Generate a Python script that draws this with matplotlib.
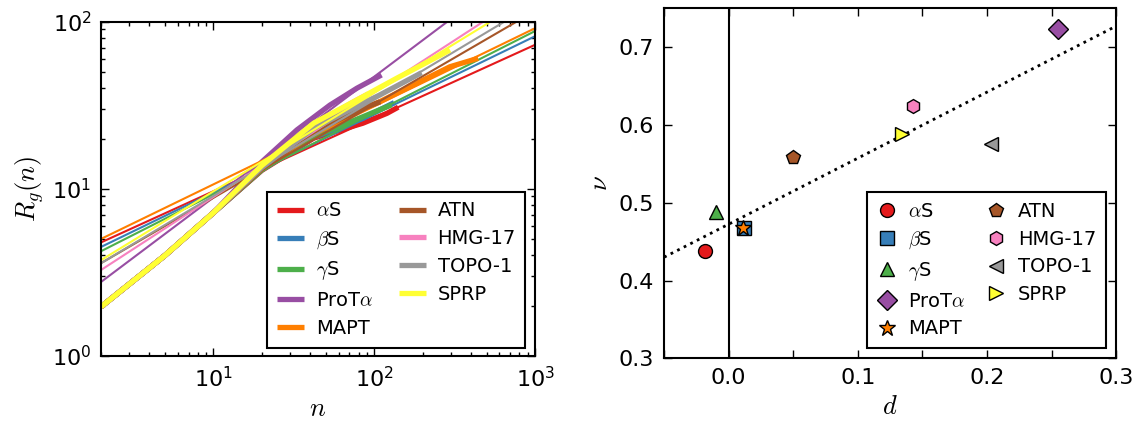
import numpy as np
import matplotlib
matplotlib.use("Agg")
import matplotlib.pyplot as plt

plt.rcParams['font.family'] = ['DejaVu Sans']
plt.rcParams['mathtext.fontset'] = 'cm'

names = [r'$\alpha$S', r'$\beta$S', r'$\gamma$S', r'ProT$\alpha$', 'MAPT',
         'ATN', 'HMG-17', 'TOPO-1', 'SPRP']
colors = ['#e41a1c', '#377eb8', '#4daf4a', '#984ea3', '#ff7f00',
          '#a65628', '#f781bf', '#999999', '#ffff33']
markers = ['o', 's', '^', 'D', '*', 'p', 'h', '<', '>']

# right panel values
d_vals = [-0.018, 0.012, -0.010, 0.255, 0.011, 0.050, 0.143, 0.203, 0.134]
nu_vals = [0.438, 0.467, 0.488, 0.723, 0.467, 0.559, 0.625, 0.576, 0.589]
# fitted prefactor b of R_g = b * n^nu (thin lines)
b_vals = [3.53, 3.25, 3.02, 1.68, 3.63, 2.44, 2.12, 2.41, 2.49]

# dotted trend line nu = a + s*d
trend_a = 0.4724
trend_s = 0.849

# measured R_g(n) curves (thick)
n_common = [2, 5, 10]
R_common = [1.97, 4.0, 7.2]
curve_n = [
    [20, 42, 85, 120, 141],
    [20, 42, 85, 133],
    [20, 42, 85, 128],
    [20, 33, 53, 78, 111],
    [20, 42, 85, 108, 202, 296, 443],
    [20, 42, 85, 109],
    [20, 42, 78, 92],
    [20, 42, 85, 108, 197],
    [20, 42, 85, 138, 200, 296],
]
curve_R = [
    [12.9, 20.1, 24.7, 28.3, 30.8],
    [13.0, 20.3, 26.4, 32.8],
    [13.0, 20.5, 27.0, 31.8],
    [14.5, 22.5, 31.7, 40.0, 48.0],
    [13.2, 21.5, 30.0, 33.2, 44.8, 53.8, 60.4],
    [13.2, 22.0, 30.3, 33.2],
    [13.6, 24.3, 34.0, 37.0],
    [13.4, 23.0, 32.5, 36.4, 49.5],
    [13.8, 24.7, 35.6, 45.9, 55.4, 67.7],
]

n_range = [2, 1000]

fig = plt.figure(figsize=(11.43, 4.23), dpi=100)
ax1 = fig.add_axes([0.0884, 0.1584, 0.3797, 0.7903])
ax2 = fig.add_axes([0.581, 0.1530, 0.3955, 0.8274])

tick_fs = 16
leg_fs = 14
lab_fs = 19

# ---- left panel
handles = []
for i in range(len(names)):
    nn = np.array(n_range, dtype=float)
    ax1.plot(nn, b_vals[i] * nn ** nu_vals[i], color=colors[i], lw=1.5,
             solid_capstyle='butt')
    h, = ax1.plot(n_common + curve_n[i], R_common + curve_R[i],
                  color=colors[i], lw=3.8, solid_capstyle='butt',
                  label=names[i])
    handles.append(h)
ax1.set_xscale('log')
ax1.set_yscale('log')
ax1.set_xlim(2, 1000)
ax1.set_ylim(1, 100)
ax1.set_xlabel(r'$n$', fontsize=lab_fs)
ax1.set_ylabel(r'$R_g(n)$', fontsize=lab_fs)
leg1 = ax1.legend(handles=handles, ncol=2, loc='lower right',
                  bbox_to_anchor=(0.978, 0.025), borderaxespad=0,
                  fontsize=leg_fs, handlelength=1.4, handletextpad=0.6,
                  columnspacing=1.3, labelspacing=0.45, borderpad=0.5,
                  fancybox=False, framealpha=1)
leg1.get_frame().set_edgecolor('black')
leg1.get_frame().set_linewidth(1.5)

# ---- right panel
ax2.axvline(0, color='black', lw=1.5)
dd = np.array([-0.05, 0.3])
ax2.plot(dd, trend_a + trend_s * dd, color='black', lw=2, ls=':')
for i in range(len(names)):
    ms = 12 if markers[i] == '*' else 10
    ax2.plot([d_vals[i]], [nu_vals[i]], ls='none', marker=markers[i],
             markersize=ms, markerfacecolor=colors[i], markeredgecolor='black',
             markeredgewidth=1.0, label=names[i])
ax2.set_xlim(-0.05, 0.3)
ax2.set_ylim(0.3, 0.75)
ax2.set_xticks([-0.05, 0.0, 0.05, 0.1, 0.15, 0.2, 0.25, 0.3])
ax2.set_xticklabels(['', '0.0', '', '0.1', '', '0.2', '', '0.3'])
ax2.set_yticks([0.3, 0.4, 0.5, 0.6, 0.7])
ax2.set_yticklabels(['0.3', '0.4', '0.5', '0.6', '0.7'])
ax2.set_xlabel(r'$d$', fontsize=lab_fs)
ax2.set_ylabel(r'$\nu$', fontsize=lab_fs)
leg2 = ax2.legend(ncol=2, loc='lower right', bbox_to_anchor=(0.977, 0.029),
                  borderaxespad=0, fontsize=leg_fs, numpoints=1,
                  handlelength=1.0, handletextpad=0.6, columnspacing=1.1,
                  labelspacing=0.45, borderpad=0.5, fancybox=False,
                  framealpha=1)
leg2.get_frame().set_edgecolor('black')
leg2.get_frame().set_linewidth(1.5)

for ax in (ax1, ax2):
    for s in ax.spines.values():
        s.set_linewidth(1.5)
    ax.tick_params(which='both', direction='in', top=True, right=True,
                   labelsize=tick_fs, pad=7)
    ax.tick_params(which='major', length=6, width=1)
    ax.tick_params(which='minor', length=3, width=1)

fig.savefig('out.png', dpi=100)
